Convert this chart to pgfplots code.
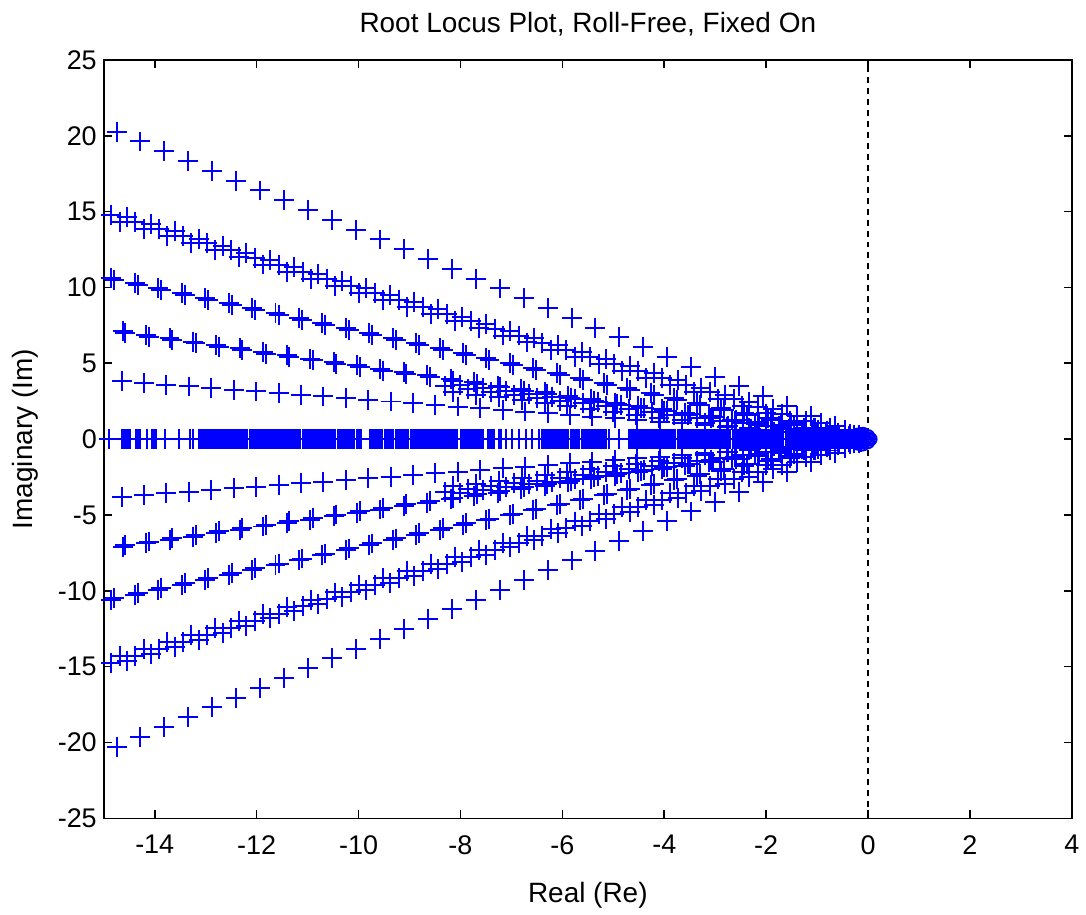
\documentclass[border=0pt]{standalone}
\usepackage{fontspec}
\setmainfont{Liberation Sans}
\usepackage{pgfplots}
\usepackage{pgfplotstable}
\pgfplotsset{compat=1.18}

% root locus branches: x, upper branch y, lower branch (conjugate) ny
\pgfplotstableread{
x y ny
-14.75 20.27 -20.27
-14.28 19.62 -19.62
-13.81 18.97 -18.97
-13.34 18.33 -18.33
-12.87 17.68 -17.68
-12.40 17.04 -17.04
-11.93 16.39 -16.39
-11.46 15.75 -15.75
-10.99 15.10 -15.10
-10.52 14.45 -14.45
-10.05 13.81 -13.81
-9.58 13.16 -13.16
-9.11 12.52 -12.52
-8.64 11.87 -11.87
-8.17 11.23 -11.23
-7.70 10.58 -10.58
-7.23 9.93 -9.93
-6.76 9.29 -9.29
-6.29 8.64 -8.64
-5.82 8.00 -8.00
-5.35 7.35 -7.35
-4.88 6.71 -6.71
-4.41 6.06 -6.06
-3.94 5.41 -5.41
-3.47 4.77 -4.77
-3.00 4.12 -4.12
-2.53 3.48 -3.48
-2.06 2.83 -2.83
-1.59 2.18 -2.18
-1.12 1.54 -1.54
-0.65 0.89 -0.89
-0.18 0.25 -0.25
}\branchA

\pgfplotstableread{
x y ny
-14.85 14.78 -14.78
-14.38 14.31 -14.31
-13.91 13.84 -13.84
-13.44 13.37 -13.37
-12.97 12.91 -12.91
-12.50 12.44 -12.44
-12.03 11.97 -11.97
-11.56 11.50 -11.50
-11.09 11.03 -11.03
-10.62 10.57 -10.57
-10.15 10.10 -10.10
-9.68 9.63 -9.63
-9.21 9.16 -9.16
-8.74 8.70 -8.70
-8.27 8.23 -8.23
-7.80 7.76 -7.76
-7.33 7.29 -7.29
-6.86 6.83 -6.83
-6.39 6.36 -6.36
-5.92 5.89 -5.89
-5.45 5.42 -5.42
-4.98 4.96 -4.96
-4.51 4.49 -4.49
-4.04 4.02 -4.02
-3.57 3.55 -3.55
-3.10 3.08 -3.08
-2.63 2.62 -2.62
-2.16 2.15 -2.15
-1.69 1.68 -1.68
-1.22 1.21 -1.21
-0.75 0.75 -0.75
-0.28 0.28 -0.28
-14.69 14.32 -14.32
-14.22 13.85 -13.85
-13.75 13.38 -13.38
-13.28 12.91 -12.91
-12.81 12.45 -12.45
-12.34 11.98 -11.98
-11.87 11.51 -11.51
-11.40 11.04 -11.04
-10.93 10.58 -10.58
-10.46 10.11 -10.11
-9.99 9.64 -9.64
-9.52 9.17 -9.17
-9.05 8.70 -8.70
-8.58 8.24 -8.24
-8.11 7.77 -7.77
-7.64 7.30 -7.30
-7.17 6.83 -6.83
-6.70 6.37 -6.37
-6.23 5.90 -5.90
-5.76 5.43 -5.43
-5.29 4.96 -4.96
-4.82 4.50 -4.50
-4.35 4.03 -4.03
-3.88 3.56 -3.56
-3.41 3.09 -3.09
-2.94 2.63 -2.63
-2.47 2.16 -2.16
-2.00 1.69 -1.69
-1.53 1.22 -1.22
-1.06 0.75 -0.75
-0.59 0.29 -0.29
-14.55 14.63 -14.63
-14.08 14.16 -14.16
-13.61 13.69 -13.69
-13.14 13.22 -13.22
-12.67 12.76 -12.76
-12.20 12.29 -12.29
-11.73 11.82 -11.82
-11.26 11.35 -11.35
-10.79 10.89 -10.89
-10.32 10.42 -10.42
-9.85 9.95 -9.95
-9.38 9.48 -9.48
-8.91 9.02 -9.02
-8.44 8.55 -8.55
-7.97 8.08 -8.08
-7.50 7.61 -7.61
-7.03 7.14 -7.14
-6.56 6.68 -6.68
-6.09 6.21 -6.21
-5.62 5.74 -5.74
-5.15 5.27 -5.27
-4.68 4.81 -4.81
-4.21 4.34 -4.34
-3.74 3.87 -3.87
-3.27 3.40 -3.40
-2.80 2.94 -2.94
-2.33 2.47 -2.47
-1.86 2.00 -2.00
-1.39 1.53 -1.53
-0.92 1.07 -1.07
-0.45 0.60 -0.60
}\branchB

\pgfplotstableread{
x y ny
-14.85 10.62 -10.62
-14.39 10.29 -10.29
-13.93 9.96 -9.96
-13.47 9.63 -9.63
-13.01 9.30 -9.30
-12.55 8.97 -8.97
-12.09 8.64 -8.64
-11.63 8.32 -8.32
-11.17 7.99 -7.99
-10.71 7.66 -7.66
-10.25 7.33 -7.33
-9.79 7.00 -7.00
-9.33 6.67 -6.67
-8.87 6.34 -6.34
-8.41 6.01 -6.01
-7.95 5.68 -5.68
-7.49 5.36 -5.36
-7.03 5.03 -5.03
-6.57 4.70 -4.70
-6.11 4.37 -4.37
-5.65 4.04 -4.04
-5.19 3.71 -3.71
-4.73 3.38 -3.38
-4.27 3.05 -3.05
-3.81 2.72 -2.72
-3.35 2.40 -2.40
-2.89 2.07 -2.07
-2.43 1.74 -1.74
-1.97 1.41 -1.41
-1.51 1.08 -1.08
-1.05 0.75 -0.75
-0.59 0.42 -0.42
-14.79 10.50 -10.50
-14.33 10.17 -10.17
-13.87 9.84 -9.84
-13.41 9.51 -9.51
-12.95 9.18 -9.18
-12.49 8.85 -8.85
-12.03 8.52 -8.52
-11.57 8.20 -8.20
-11.11 7.87 -7.87
-10.65 7.54 -7.54
-10.19 7.21 -7.21
-9.73 6.88 -6.88
-9.27 6.55 -6.55
-8.81 6.22 -6.22
-8.35 5.89 -5.89
-7.89 5.56 -5.56
-7.43 5.24 -5.24
-6.97 4.91 -4.91
-6.51 4.58 -4.58
-6.05 4.25 -4.25
-5.59 3.92 -3.92
-5.13 3.59 -3.59
-4.67 3.26 -3.26
-4.21 2.93 -2.93
-3.75 2.60 -2.60
-3.29 2.28 -2.28
-2.83 1.95 -1.95
-2.37 1.62 -1.62
-1.91 1.29 -1.29
-1.45 0.96 -0.96
-0.99 0.63 -0.63
}\branchC

\pgfplotstableread{
x y ny
-14.63 7.10 -7.10
-14.17 6.87 -6.87
-13.71 6.65 -6.65
-13.25 6.43 -6.43
-12.79 6.20 -6.20
-12.33 5.98 -5.98
-11.87 5.76 -5.76
-11.41 5.53 -5.53
-10.95 5.31 -5.31
-10.49 5.09 -5.09
-10.03 4.86 -4.86
-9.57 4.64 -4.64
-9.11 4.42 -4.42
-8.65 4.20 -4.20
-8.19 3.97 -3.97
-7.73 3.75 -3.75
-7.27 3.53 -3.53
-6.81 3.30 -3.30
-6.35 3.08 -3.08
-5.89 2.86 -2.86
-5.43 2.63 -2.63
-4.97 2.41 -2.41
-4.51 2.19 -2.19
-4.05 1.96 -1.96
-3.59 1.74 -1.74
-3.13 1.52 -1.52
-2.67 1.29 -1.29
-2.21 1.07 -1.07
-1.75 0.85 -0.85
-1.29 0.63 -0.63
-0.83 0.40 -0.40
-0.37 0.18 -0.18
-14.58 6.98 -6.98
-14.12 6.75 -6.75
-13.66 6.53 -6.53
-13.20 6.31 -6.31
-12.74 6.08 -6.08
-12.28 5.86 -5.86
-11.82 5.64 -5.64
-11.36 5.41 -5.41
-10.90 5.19 -5.19
-10.44 4.97 -4.97
-9.98 4.74 -4.74
-9.52 4.52 -4.52
-9.06 4.30 -4.30
-8.60 4.08 -4.08
-8.14 3.85 -3.85
-7.68 3.63 -3.63
-7.22 3.41 -3.41
-6.76 3.18 -3.18
-6.30 2.96 -2.96
-5.84 2.74 -2.74
-5.38 2.51 -2.51
-4.92 2.29 -2.29
-4.46 2.07 -2.07
-4.00 1.84 -1.84
-3.54 1.62 -1.62
-3.08 1.40 -1.40
-2.62 1.17 -1.17
-2.16 0.95 -0.95
-1.70 0.73 -0.73
-1.24 0.51 -0.51
-0.78 0.28 -0.28
}\branchD

\pgfplotstableread{
x y ny
-8.30 3.49 -3.49
-7.85 3.30 -3.30
-7.40 3.11 -3.11
-6.95 2.92 -2.92
-6.50 2.73 -2.73
-6.05 2.54 -2.54
-5.60 2.35 -2.35
-5.15 2.16 -2.16
-4.70 1.97 -1.97
-4.25 1.79 -1.79
-3.80 1.60 -1.60
-3.35 1.41 -1.41
-2.90 1.22 -1.22
-2.45 1.03 -1.03
-2.00 0.84 -0.84
-1.55 0.65 -0.65
-1.10 0.46 -0.46
-0.65 0.27 -0.27
-8.15 3.12 -3.12
-7.70 2.93 -2.93
-7.25 2.75 -2.75
-6.80 2.56 -2.56
-6.35 2.37 -2.37
-5.90 2.18 -2.18
-5.45 1.99 -1.99
-5.00 1.80 -1.80
-4.55 1.61 -1.61
-4.10 1.42 -1.42
-3.65 1.23 -1.23
-3.20 1.04 -1.04
-2.75 0.86 -0.86
-2.30 0.67 -0.67
-1.85 0.48 -0.48
-1.40 0.29 -0.29
-0.95 0.10 -0.10
-8.00 3.56 -3.56
-7.55 3.37 -3.37
-7.10 3.18 -3.18
-6.65 2.99 -2.99
-6.20 2.80 -2.80
-5.75 2.62 -2.62
-5.30 2.43 -2.43
-4.85 2.24 -2.24
-4.40 2.05 -2.05
-3.95 1.86 -1.86
-3.50 1.67 -1.67
-3.05 1.48 -1.48
-2.60 1.29 -1.29
-2.15 1.10 -1.10
-1.70 0.91 -0.91
-1.25 0.73 -0.73
-0.80 0.54 -0.54
-0.35 0.35 -0.35
}\branchE

\pgfplotstableread{
x y ny
-14.65 3.80 -3.80
-14.21 3.69 -3.69
-13.77 3.58 -3.58
-13.33 3.47 -3.47
-12.89 3.36 -3.36
-12.45 3.25 -3.25
-12.01 3.14 -3.14
-11.57 3.03 -3.03
-11.13 2.92 -2.92
-10.69 2.81 -2.81
-10.25 2.70 -2.70
-9.81 2.59 -2.59
-9.37 2.48 -2.48
-8.93 2.37 -2.37
-8.49 2.26 -2.26
-8.05 2.15 -2.15
-7.61 2.04 -2.04
-7.17 1.93 -1.93
-6.73 1.82 -1.82
-6.29 1.71 -1.71
-5.85 1.60 -1.60
-5.41 1.49 -1.49
-4.97 1.38 -1.38
-4.53 1.27 -1.27
-4.09 1.16 -1.16
-3.65 1.05 -1.05
-3.21 0.94 -0.94
-2.77 0.83 -0.83
-2.33 0.72 -0.72
-1.89 0.61 -0.61
-1.45 0.50 -0.50
-1.01 0.39 -0.39
-0.57 0.28 -0.28
-0.13 0.17 -0.17
}\branchF

\begin{document}
\begin{tikzpicture}
\path (-52pt,-42.5pt) rectangle (491pt,410pt);
\begin{axis}[
  scale only axis, width=485pt, height=380pt,
  xmin=-15, xmax=4, ymin=-25, ymax=25,
  xtick={-14,-12,...,4}, ytick={-25,-20,...,25},
  tick align=inside, major tick length=4pt,
  axis line style={line width=0.8pt},
  every tick/.style={black, line width=0.8pt},
  /pgf/number format/assume math mode=true,
  tick label style={font=\fontsize{13.5}{15}\selectfont},
  xticklabel style={yshift=-5pt},
  label style={font=\fontsize{14}{16}\selectfont},
  xlabel style={yshift=-7pt},
  ylabel style={yshift=3pt},
  title style={font=\fontsize{14}{16}\selectfont, yshift=2.5pt},
  title={Root Locus Plot, Roll-Free, Fixed On},
  xlabel={Real (Re)}, ylabel={Imaginary (Im)},
  mk/.style={only marks, mark=+, mark size=5pt, blue, line width=1pt},
]
\addplot[mk] table[x=x, y=y] {\branchA};
\addplot[mk] table[x=x, y=ny] {\branchA};
\addplot[mk] table[x=x, y=y] {\branchB};
\addplot[mk] table[x=x, y=ny] {\branchB};
\addplot[mk] table[x=x, y=y] {\branchC};
\addplot[mk] table[x=x, y=ny] {\branchC};
\addplot[mk] table[x=x, y=y] {\branchD};
\addplot[mk] table[x=x, y=ny] {\branchD};
\addplot[mk] table[x=x, y=y] {\branchE};
\addplot[mk] table[x=x, y=ny] {\branchE};
\addplot[mk] table[x=x, y=y] {\branchF};
\addplot[mk] table[x=x, y=ny] {\branchF};
% poles on the real axis
\addplot[mk] coordinates {
(-14.90,0)(-14.65,0)(-14.61,0)(-14.57,0)(-14.53,0)(-14.49,0)(-14.37,0)(-14.33,0)(-14.29,0)
(-14.16,0)(-14.06,0)(-14.02,0)(-13.98,0)(-13.79,0)(-13.53,0)(-13.30,0)(-13.24,0)(-13.14,0)
(-13.10,0)(-13.06,0)(-13.02,0)(-12.98,0)(-12.94,0)(-12.90,0)(-12.86,0)(-12.82,0)(-12.78,0)
(-12.74,0)(-12.70,0)(-12.66,0)(-12.62,0)(-12.58,0)(-12.54,0)(-12.50,0)(-12.46,0)(-12.42,0)
(-12.38,0)(-12.34,0)(-12.30,0)(-12.26,0)(-12.22,0)(-12.18,0)(-12.14,0)(-12.10,0)(-12.06,0)
(-12.02,0)(-11.98,0)(-11.94,0)(-11.90,0)
(-11.86,0)(-11.82,0)(-11.78,0)(-11.74,0)(-11.70,0)(-11.66,0)(-11.62,0)(-11.58,0)(-11.54,0)
(-11.50,0)(-11.46,0)(-11.42,0)(-11.38,0)(-11.34,0)(-11.30,0)(-11.26,0)(-11.22,0)(-11.18,0)
(-11.14,0)(-11.10,0)(-11.06,0)(-11.02,0)(-10.98,0)(-10.94,0)(-10.90,0)(-10.86,0)(-10.82,0)
(-10.78,0)(-10.74,0)(-10.70,0)(-10.66,0)(-10.62,0)(-10.58,0)(-10.54,0)(-10.50,0)(-10.46,0)
(-10.40,0)(-10.36,0)(-10.32,0)(-10.28,0)(-10.24,0)(-10.20,0)(-10.16,0)(-10.12,0)(-10.08,0)
(-10.04,0)(-10.00,0)(-9.95,0)
(-9.77,0)(-9.73,0)(-9.69,0)(-9.65,0)(-9.61,0)(-9.57,0)(-9.53,0)(-9.49,0)(-9.45,0)(-9.41,0)
(-9.37,0)(-9.33,0)
(-9.26,0)(-9.22,0)(-9.18,0)(-9.14,0)(-9.10,0)(-9.06,0)(-9.02,0)(-8.98,0)(-8.94,0)(-8.90,0)
(-8.86,0)(-8.82,0)(-8.78,0)(-8.74,0)(-8.70,0)(-8.66,0)(-8.62,0)(-8.58,0)(-8.54,0)(-8.50,0)
(-8.46,0)(-8.42,0)(-8.38,0)(-8.34,0)(-8.30,0)(-8.26,0)(-8.22,0)(-8.18,0)(-8.14,0)(-8.10,0)
(-8.06,0)
(-7.99,0)(-7.95,0)(-7.91,0)(-7.87,0)(-7.83,0)(-7.79,0)(-7.75,0)(-7.71,0)(-7.67,0)(-7.63,0)
(-7.59,0)(-7.55,0)(-7.46,0)(-7.42,0)(-7.38,0)(-7.34,0)(-7.24,0)(-7.20,0)
(-7.11,0)(-6.99,0)(-6.85,0)(-6.71,0)(-6.60,0)(-6.46,0)
(-6.40,0)(-6.36,0)(-6.32,0)(-6.28,0)(-6.24,0)(-6.20,0)(-6.16,0)(-6.12,0)(-6.08,0)(-6.04,0)
(-6.00,0)(-5.96,0)(-5.92,0)(-5.88,0)(-5.84,0)(-5.80,0)(-5.76,0)(-5.72,0)(-5.68,0)
(-5.62,0)(-5.58,0)(-5.54,0)(-5.50,0)(-5.46,0)(-5.42,0)(-5.38,0)(-5.34,0)(-5.30,0)(-5.26,0)
(-5.22,0)(-5.18,0)(-5.15,0)(-5.09,0)(-4.89,0)
(-4.70,0)(-4.66,0)(-4.62,0)(-4.58,0)(-4.54,0)(-4.50,0)(-4.46,0)(-4.42,0)(-4.38,0)(-4.34,0)
(-4.30,0)(-4.26,0)(-4.22,0)(-4.18,0)(-4.14,0)(-4.10,0)(-4.06,0)(-4.02,0)(-3.98,0)(-3.94,0)
(-3.90,0)(-3.86,0)(-3.82,0)(-3.78,0)(-3.74,0)(-3.70,0)(-3.66,0)(-3.62,0)(-3.58,0)(-3.54,0)
(-3.50,0)(-3.46,0)(-3.42,0)(-3.38,0)(-3.34,0)(-3.30,0)(-3.26,0)(-3.22,0)(-3.18,0)(-3.14,0)
(-3.10,0)(-3.06,0)(-3.02,0)(-2.98,0)(-2.94,0)(-2.90,0)(-2.86,0)(-2.82,0)(-2.78,0)(-2.74,0)
(-2.70,0)(-2.66,0)(-2.62,0)(-2.58,0)(-2.54,0)(-2.50,0)(-2.46,0)(-2.42,0)(-2.38,0)(-2.34,0)
(-2.30,0)(-2.26,0)(-2.22,0)(-2.18,0)(-2.14,0)(-2.10,0)(-2.06,0)(-2.02,0)(-1.98,0)(-1.94,0)
(-1.90,0)(-1.86,0)(-1.82,0)(-1.78,0)(-1.74,0)(-1.70,0)(-1.66,0)(-1.62,0)(-1.58,0)(-1.54,0)
(-1.50,0)(-1.46,0)(-1.42,0)(-1.38,0)(-1.34,0)(-1.30,0)(-1.26,0)(-1.22,0)(-1.18,0)(-1.14,0)
(-1.10,0)(-1.06,0)(-1.02,0)(-0.98,0)(-0.94,0)(-0.90,0)(-0.86,0)(-0.82,0)(-0.78,0)(-0.74,0)
(-0.70,0)(-0.66,0)(-0.62,0)(-0.58,0)(-0.54,0)(-0.50,0)(-0.46,0)(-0.42,0)(-0.38,0)(-0.34,0)
(-0.30,0)(-0.26,0)(-0.22,0)(-0.18,0)(-0.14,0)(-0.10,0)(-0.06,0)(-0.02,0)
};
% zeros near the origin
\addplot[only marks, mark=o, mark size=3pt, blue, line width=1pt] coordinates {
(-0.30,0)(-0.25,0)(-0.20,0)(-0.15,0)(-0.10,0)(-0.05,0)(0,0)(0.05,0)
(-0.20,0.30)(-0.20,-0.30)(-0.10,0.35)(-0.10,-0.35)(0,0.2)(0,-0.2)
};
\addplot[black, line width=0.8pt, dash pattern=on 3pt off 2.5pt] coordinates {(0,-25)(0,25)};
\end{axis}
\end{tikzpicture}
\end{document}
